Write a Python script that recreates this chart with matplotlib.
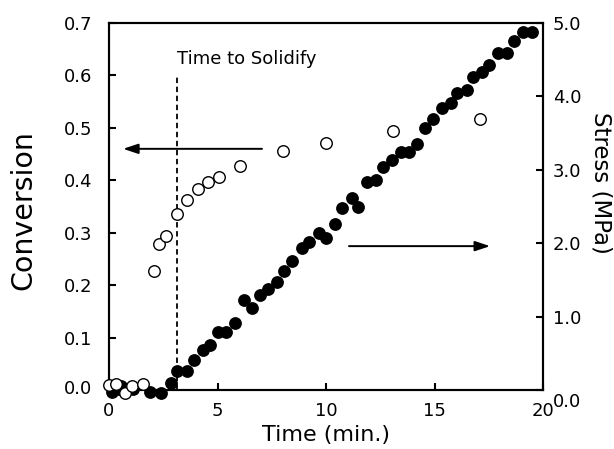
import matplotlib
matplotlib.use("Agg")
import matplotlib.pyplot as plt
from matplotlib.transforms import ScaledTranslation

# Conversion (open circles)
t_conv = [0.0, 0.3, 0.75, 1.05, 1.55, 2.07, 2.30, 2.63, 3.13, 3.59, 4.10, 4.56,
          5.07, 6.04, 8.0, 10.0, 13.1, 17.1]
conversion = [0.010, 0.012, -0.005, 0.008, 0.012, 0.227, 0.278, 0.294, 0.336,
              0.362, 0.383, 0.397, 0.406, 0.427, 0.456, 0.471, 0.494, 0.517]

# Stress (filled circles)
t_stress = [0.15, 0.4, 0.55, 1.1, 1.9, 2.4, 2.85,
            3.13, 3.59, 3.92, 4.33, 4.65, 5.02, 5.39, 5.81, 6.22, 6.59, 6.96,
            7.33, 7.74, 8.06, 8.43, 8.89, 9.22, 9.68, 10.0, 10.4, 10.74, 11.2,
            11.47, 11.89, 12.3, 12.63, 13.04, 13.46, 13.82, 14.19, 14.56, 14.93,
            15.35, 15.76, 16.04, 16.5, 16.77, 17.19, 17.51, 17.93, 18.34, 18.66,
            19.08, 19.49]
stress = [-0.03, 0.02, 0.05, 0.02, -0.03, -0.04, 0.10,
          0.26, 0.26, 0.41, 0.54, 0.61, 0.79, 0.79, 0.91, 1.23, 1.12, 1.29,
          1.37, 1.47, 1.62, 1.76, 1.93, 2.02, 2.14, 2.07, 2.26, 2.48, 2.62,
          2.49, 2.83, 2.86, 3.04, 3.13, 3.24, 3.24, 3.35, 3.57, 3.69,
          3.84, 3.91, 4.05, 4.09, 4.26, 4.33, 4.43, 4.59, 4.59, 4.75,
          4.88, 4.88]

x_ticks = [0, 5, 10, 15, 20]
conv_ticks = [0.0, 0.1, 0.2, 0.3, 0.4, 0.5, 0.6, 0.7]
stress_ticks = [0.0, 1.0, 2.0, 3.0, 4.0, 5.0]
t_solidify = 3.13

fig = plt.figure(figsize=(6.14, 4.49), dpi=100)
ax = fig.add_axes([109/614, 59/449, 434/614, 367/449])
ax2 = ax.twinx()
ax.set_zorder(ax2.get_zorder() + 1)
ax.patch.set_visible(False)

ax2.plot(t_stress, stress, 'o', color='black', markersize=8.2, clip_on=False, zorder=3)
ax.plot(t_conv, conversion, 'o', markerfacecolor='white', markeredgecolor='black',
        markersize=8.3, markeredgewidth=1.0, clip_on=False, zorder=3)

ax.set_xlim(0, 20)
ax.set_ylim(0, 0.7)
ax2.set_ylim(0, 5.0)
ax.set_xticks(x_ticks)
ax.set_xticklabels([str(v) for v in x_ticks])
ax.set_yticks(conv_ticks)
ax.set_yticklabels([f"{v:.1f}" for v in conv_ticks])
ax2.set_yticks(stress_ticks)
ax2.set_yticklabels([f"{v:.1f}" for v in stress_ticks])

for a in (ax, ax2):
    for s in a.spines.values():
        s.set_linewidth(1.5)
ax.tick_params(axis='both', direction='in', length=5, width=1.5, labelsize=13)
ax.tick_params(axis='y', pad=12)
ax.tick_params(axis='x', pad=9)
ax2.tick_params(axis='y', direction='in', length=5, width=1.5, labelsize=13, pad=7)

# shift the right-hand "0.0" label slightly down, as in the reference
lbl0 = ax2.get_yticklabels()[0]
lbl0.set_transform(lbl0.get_transform() + ScaledTranslation(0, -7/72, fig.dpi_scale_trans))
lblL0 = ax.get_yticklabels()[0]
lblL0.set_transform(lblL0.get_transform() + ScaledTranslation(0, 2/72, fig.dpi_scale_trans))

# dashed line & annotation
ax.plot([t_solidify, t_solidify], [0, 0.6], color='black', linestyle=(0, (3, 2)), linewidth=1.3)
ax.text(t_solidify, 0.615, "Time to Solidify", fontsize=13, ha='left', va='bottom')

# arrows
ax.annotate("", xy=(0.65, 0.46), xytext=(7.05, 0.46),
            arrowprops=dict(arrowstyle='-|>,head_length=0.9,head_width=0.3',
                            color='black', lw=1.4, shrinkA=0, shrinkB=0))
ax2.annotate("", xy=(17.56, 1.96), xytext=(11.06, 1.96),
             arrowprops=dict(arrowstyle='-|>,head_length=0.9,head_width=0.3',
                             color='black', lw=1.4, shrinkA=0, shrinkB=0))

ax.set_xlabel("Time (min.)", fontsize=16, va='center')
ax.xaxis.set_label_coords(0.5, -0.123)
ax.set_ylabel("Conversion", fontsize=20.5, va='center')
ax.yaxis.set_label_coords(-0.198, 0.49)
ax2.set_ylabel("Stress (MPa)", fontsize=16.5, rotation=-90, va='center')
ax2.yaxis.set_label_coords(1.133, 0.565)

fig.savefig("out.png", dpi=100)
